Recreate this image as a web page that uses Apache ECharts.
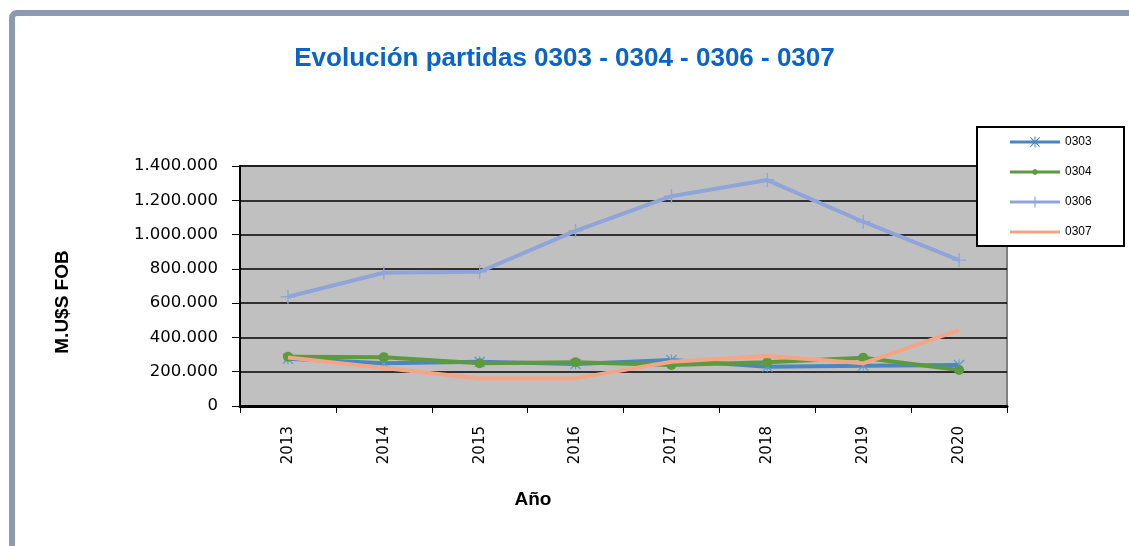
<!DOCTYPE html>
<html>
<head>
<meta charset="utf-8">
<script src="https://cdn.jsdelivr.net/npm/echarts@6/dist/echarts.min.js"></script>
<style>
  html, body { margin: 0; padding: 0; background: #fff; }
  #container { width: 1129px; height: 546px; }
</style>
</head>
<body>
<div id="container"></div>
<script>
(function() {
"use strict";

    // data
    var years = ['2013', '2014', '2015', '2016', '2017', '2018', '2019', '2020'];
    var p0303 = [275000, 249000, 258000, 245000, 268000, 229000, 235000, 239000];
    var p0304 = [287000, 285000, 249000, 255000, 239000, 255000, 282000, 210000];
    var p0306 = [637000, 777000, 783000, 1022000, 1224000, 1318000, 1075000, 851000];
    var p0307 = [283000, 222000, 161000, 161000, 258000, 292000, 249000, 443000];
    var yTicks = [0, 200000, 400000, 600000, 800000, 1000000, 1200000, 1400000];

    var font = '"Liberation Sans", Arial, sans-serif';
    var wide = '"DejaVu Sans", Verdana, sans-serif';

    // markers
    var starPath = 'path://M0,0.8L0.8,0L10,9.2L9.2,10Z M9.2,0L10,0.8L0.8,10L0,9.2Z M4.55,0H5.45V10H4.55Z';
    var plusPath = 'path://M6.3,0H7.7V14H6.3Z M0,6.3H14V7.7H0Z';

    // legend icons, 50 x 14 box (tiny corners keep the box size)
    var pad = 'M0,0L0.01,0L0,0.01Z M49.99,14L50,14L50,13.99Z ';
    var band = 'M0,5.5H50V8.5H0Z ';
    var icon0303 = 'path://' + pad + band + 'M20,2.7L20.7,2L30,11.3L29.3,12Z M29.3,2L30,2.7L20.7,12L20,11.3Z M24.5,1.5H25.5V12.5H24.5Z';
    var icon0304 = 'path://' + pad + band + 'M28,7L27.1,9.1L25,10L22.9,9.1L22,7L22.9,4.9L25,4L27.1,4.9Z';
    var icon0306 = 'path://' + pad + band + 'M24.4,1.5H25.6V12.5H24.4Z';
    var icon0307 = 'path://' + pad + band;

    function dots(v) {
        return String(v).replace(/\B(?=(\d{3})+(?!\d))/g, '.');
    }

    var dom = document.getElementById('container');
    var myChart = echarts.init(dom, null, { renderer: 'canvas' });

    var option = {
        animation: false,
        backgroundColor: '#fff',
        title: {
            text: 'Evolución partidas 0303 - 0304 - 0306 - 0307',
            left: 'center',
            top: 41,
            textStyle: { color: '#0a64c8', fontFamily: font, fontWeight: 'bold', fontSize: 26 }
        },
        grid: {
            left: 240, top: 166, width: 767, height: 240,
            show: true,
            backgroundColor: '#c0c0c0',
            borderColor: '#808080',
            borderWidth: 2
        },
        legend: {
            orient: 'vertical',
            left: 1010,
            top: 135,
            itemWidth: 50,
            itemHeight: 14,
            itemGap: 16,
            padding: 0,
            itemStyle: { borderWidth: 0 },
            textStyle: { fontFamily: font, fontSize: 12, color: '#000' },
            data: [
                { name: '0303', icon: icon0303, itemStyle: { color: '#4a86c0' } },
                { name: '0304', icon: icon0304, itemStyle: { color: '#5d9a3d' } },
                { name: '0306', icon: icon0306, itemStyle: { color: '#8fa5da' } },
                { name: '0307', icon: icon0307, itemStyle: { color: '#f3a585' } }
            ]
        },
        xAxis: {
            type: 'category',
            data: years,
            axisLine: { lineStyle: { color: '#000', width: 3 } },
            axisTick: { show: true, length: 7, lineStyle: { color: '#000', width: 1 } },
            axisLabel: { rotate: 90, margin: 20, color: '#000', fontFamily: wide, fontSize: 15 },
            splitLine: { show: false }
        },
        yAxis: {
            type: 'value',
            min: 0,
            max: 1400000,
            interval: 200000,
            axisLine: { show: true, lineStyle: { color: '#000', width: 2 } },
            axisTick: { show: true, length: 8, lineStyle: { color: '#000' } },
            axisLabel: {
                margin: 22, color: '#000', fontFamily: wide, fontSize: 16.5,
                formatter: function(v) { return yTicks.indexOf(v) >= 0 ? dots(v) : ''; }
            },
            splitLine: { show: true, lineStyle: { color: '#000', width: 1.5 } }
        },
        graphic: [
            {
                type: 'rect', z: -1,
                shape: { x: 12, y: 13, width: 1140, height: 600, r: 5 },
                style: { fill: 'none', stroke: '#8a9bb0', lineWidth: 6 }
            },
            {
                type: 'rect', z: 3,
                shape: { x: 977, y: 127, width: 147, height: 119 },
                style: { fill: '#fff', stroke: '#000', lineWidth: 2 }
            },
            {
                type: 'text', z: 5,
                x: 63, y: 302, rotation: Math.PI / 2,
                style: {
                    text: 'M.U$S FOB', fill: '#000', font: 'bold 19px ' + font,
                    align: 'center', verticalAlign: 'middle'
                }
            },
            {
                type: 'text', z: 5,
                x: 533, y: 500,
                style: {
                    text: 'Año', fill: '#000', font: 'bold 19px ' + font,
                    align: 'center', verticalAlign: 'middle'
                }
            }
        ],
        series: [
            {
                name: '0303', type: 'line', data: p0303,
                symbol: starPath, symbolSize: 11,
                lineStyle: { color: '#4a86c0', width: 4 },
                itemStyle: { color: '#5b9bd5', borderWidth: 0 },
                z: 3
            },
            {
                name: '0304', type: 'line', data: p0304,
                symbol: 'circle', symbolSize: 10,
                lineStyle: { color: '#5d9a3d', width: 4 },
                itemStyle: { color: '#5d9a3d', borderWidth: 0 },
                z: 4
            },
            {
                name: '0306', type: 'line', data: p0306,
                symbol: plusPath, symbolSize: 14,
                lineStyle: { color: '#8fa5da', width: 4 },
                itemStyle: { color: '#8fa5da', borderWidth: 0 },
                z: 2
            },
            {
                name: '0307', type: 'line', data: p0307,
                symbol: 'none',
                lineStyle: { color: '#f3a585', width: 4 },
                itemStyle: { color: '#f3a585' },
                z: 5
            }
        ]
    };

    myChart.setOption(option, true);

})();
</script>
</body>
</html>
